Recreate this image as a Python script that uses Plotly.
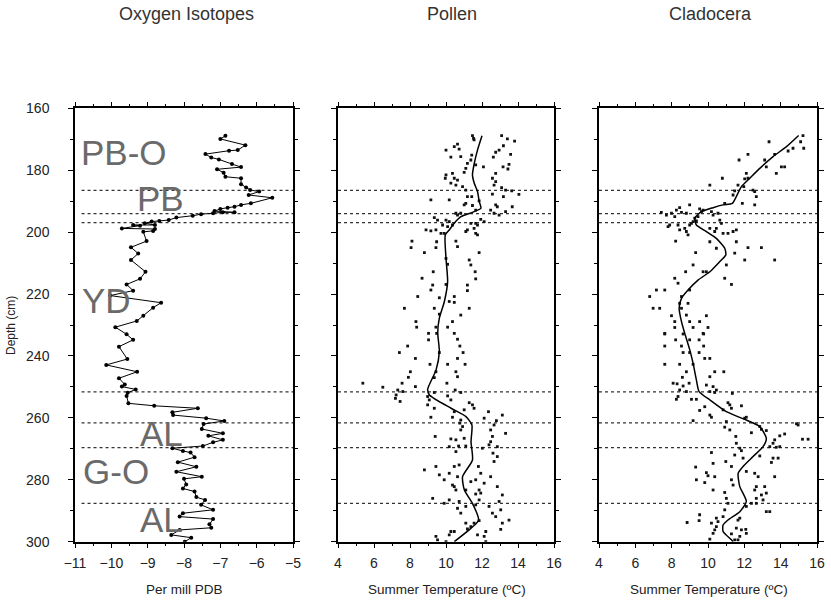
import plotly.graph_objects as go

# ---------------- data ----------------
panel_titles = ["Oxygen Isotopes", "Pollen", "Cladocera"]
x_titles = ["Per mill PDB", "Summer Temperature (ºC)", "Summer Temperature (ºC)"]
y_title = "Depth (cm)"

boundary_depths = [186.5, 194.0, 196.9, 251.6, 261.6, 269.6, 287.6]

zone_labels = ["PB-O", "PB", "YD", "AL", "G-O", "AL"]
zone_label_x = [-10.9, -9.34, -10.87, -9.27, -10.84, -9.27]
zone_label_depth = [174.4, 189.1, 222.2, 265.1, 277.4, 292.8]

ox_depth = [168.9, 169.9, 171.9, 173.5, 173.7, 174.8, 175.9, 176.5, 178.0, 179.0,
            179.7, 180.8, 182.1, 182.6, 184.5, 185.6, 186.4, 186.9, 188.0, 188.9,
            190.7, 191.2, 191.8, 192.1, 192.5, 193.2, 193.6, 193.6, 193.9, 194.2,
            194.7, 195.3, 196.1, 196.4, 196.6, 197.1, 197.7, 197.7, 197.9, 198.8,
            199.0, 199.6, 199.9, 202.9, 204.9, 206.9, 209.0, 212.8, 215.1, 216.9,
            218.9, 220.5, 222.8, 224.4, 227.0, 228.7, 230.7, 233.0, 234.8, 237.0,
            241.0, 242.9, 245.1, 247.2, 249.2, 249.9, 250.8, 251.9, 252.9, 255.3,
            256.1, 256.9, 258.2, 259.1, 260.1, 261.0, 262.0, 263.6, 265.0, 265.8,
            267.1, 267.9, 269.1, 269.8, 270.7, 271.2, 272.7, 274.3, 275.8, 277.4,
            279.0, 279.7, 281.5, 282.8, 283.8, 285.6, 286.5, 288.1, 289.7, 290.8,
            291.9, 292.7, 294.4, 295.5, 296.2, 297.8, 298.7, 300.0]
ox_value = [-6.86, -7.0, -6.31, -6.52, -6.76, -7.41, -7.25, -7.04, -6.68, -6.43,
            -7.09, -6.91, -6.86, -6.43, -6.43, -6.29, -6.18, -5.93, -6.22, -5.57,
            -6.16, -6.43, -6.61, -6.80, -7.0, -7.16, -6.61, -6.93, -7.2, -7.53,
            -7.76, -8.21, -8.42, -8.68, -8.89, -9.08, -8.80, -9.40, -9.21, -9.71,
            -8.80, -8.85, -9.12, -9.03, -9.46, -9.26, -9.46, -9.06, -9.21, -9.58,
            -9.40, -10.03, -8.63, -8.85, -9.12, -9.30, -9.89, -9.58, -9.40, -9.79,
            -9.56, -10.14, -9.29, -9.79, -9.63, -9.71, -9.33, -9.55, -9.58, -9.53,
            -8.82, -7.62, -8.32, -8.30, -7.39, -6.89, -7.46, -7.51, -6.93, -7.33,
            -6.93, -7.20, -7.48, -8.32, -8.03, -7.82, -7.71, -8.17, -7.66, -8.21,
            -7.51, -8.0, -7.94, -8.03, -7.71, -7.66, -7.42, -7.53, -7.20, -8.03,
            -8.12, -7.20, -7.30, -7.25, -8.12, -8.35, -7.80, -7.98]

# (temperature, depth)
pollen_samples = [
    (11.47, 168.8), (11.53, 169.7), (11.56, 170.2), (13.09, 168.8), (13.41, 169.9), (13.81, 170.6),
    (10.64, 171.6), (10.46, 172.4), (10.73, 173.2), (10.0, 173.5), (10.27, 175.8), (10.82, 175.6),
    (13.19, 172.1), (12.95, 173.5), (12.76, 174.2), (12.63, 175.8), (13.59, 174.9), (11.43, 175.1),
    (11.38, 176.7), (11.19, 177.8), (12.08, 178.9), (11.65, 178.3), (13.17, 178.9), (13.50, 178.1),
    (13.44, 179.6), (11.10, 179.4), (11.01, 180.7), (12.76, 181.0), (10.36, 181.0), (10.0, 181.5),
    (9.96, 182.6), (10.46, 182.6), (10.64, 183.2), (10.27, 184.2), (10.55, 184.8), (12.58, 182.6),
    (12.76, 183.7), (12.67, 184.8), (10.92, 185.3), (11.10, 186.4), (13.09, 185.6), (13.31, 186.4),
    (13.65, 186.7), (14.05, 187.8), (12.58, 187.7), (13.19, 188.5), (11.19, 188.5), (11.43, 188.5),
    (9.16, 189.6), (10.18, 189.6), (11.84, 189.9), (11.10, 190.7), (11.01, 191.2), (11.47, 191.4),
    (11.65, 192.9), (12.76, 191.2), (12.85, 191.8), (13.68, 191.8), (13.31, 193.4), (12.48, 192.9),
    (12.67, 193.9), (12.95, 194.5), (10.55, 193.9), (10.64, 194.5), (10.82, 193.9), (9.35, 195.3),
    (9.53, 196.1), (10.0, 196.1), (10.18, 196.6), (9.81, 197.7), (10.09, 198.2), (10.36, 197.7),
    (11.38, 197.2), (11.65, 197.2), (11.93, 195.9), (12.12, 196.6), (11.75, 197.7), (11.56, 198.8),
    (8.89, 199.3), (9.16, 199.6), (9.44, 199.3), (9.72, 200.4), (9.90, 200.4), (11.10, 199.8),
    (11.19, 199.3), (11.65, 200.4), (11.75, 200.9), (8.11, 202.9), (8.06, 205.0), (9.48, 203.1),
    (9.44, 205.0), (10.55, 202.9), (10.64, 204.7), (8.80, 206.6), (11.84, 206.6), (10.0, 208.5),
    (10.09, 210.4), (11.29, 209.0), (11.38, 210.6), (9.29, 212.8), (11.62, 212.8), (8.67, 214.9),
    (11.65, 215.1), (9.16, 218.7), (9.26, 217.1), (10.0, 216.9), (11.19, 217.1), (11.19, 218.9),
    (8.43, 220.8), (9.63, 221.2), (10.46, 220.8), (10.18, 222.4), (10.46, 222.7), (7.69, 224.6),
    (9.35, 224.6), (11.29, 224.6), (10.82, 226.8), (9.63, 226.5), (8.33, 228.9), (8.37, 230.7),
    (9.44, 230.7), (10.09, 230.7), (10.36, 228.9),
    (9.03, 232.7), (9.48, 232.7), (10.46, 232.7), (9.03, 234.8), (10.64, 234.6), (10.77, 236.8),
    (7.87, 236.8), (7.41, 238.9), (9.63, 238.9), (10.95, 238.9), (8.30, 240.8), (10.64, 240.8),
    (9.11, 242.7), (10.09, 242.7), (11.06, 242.7), (9.44, 245.1), (8.02, 245.1), (10.55, 245.1),
    (7.91, 246.9), (9.35, 247.0), (10.64, 246.7), (5.38, 248.8), (7.56, 248.8), (10.05, 248.8),
    (6.49, 250.1), (8.30, 249.9), (7.32, 251.0), (7.60, 251.5), (10.51, 251.0), (10.82, 251.8),
    (9.35, 251.8), (7.23, 252.6), (7.19, 253.7), (7.45, 254.7), (8.98, 253.1), (9.07, 254.2),
    (10.09, 252.9), (10.27, 254.2), (8.98, 255.8), (9.35, 256.9), (11.29, 255.1), (11.47, 255.8),
    (11.56, 256.9), (11.01, 257.4), (10.46, 258.0), (12.36, 258.0), (9.16, 259.8), (10.36, 259.8),
    (10.82, 260.7), (12.12, 260.1), (13.13, 259.1), (12.80, 260.9), (12.67, 262.3), (10.77, 261.7),
    (10.82, 263.9), (10.92, 262.8), (12.48, 263.9), (13.31, 265.0), (9.40, 266.0), (12.58, 266.0),
    (10.27, 266.8), (10.55, 267.1), (11.01, 266.6), (10.18, 269.3), (10.70, 269.1), (11.10, 269.1),
    (12.02, 269.8), (12.85, 269.3), (10.55, 270.9), (12.48, 267.7), (12.39, 268.7), (12.61, 271.4),
    (12.85, 272.5), (12.67, 274.1), (8.80, 276.8), (9.44, 275.7), (9.63, 278.4), (9.90, 280.0),
    (10.18, 277.9), (10.46, 275.7), (10.73, 275.2), (10.64, 279.0), (11.80, 275.7), (11.93, 277.9),
    (11.65, 280.0), (12.48, 279.0), (10.36, 281.7), (10.46, 282.2), (11.38, 280.6), (12.12, 281.1),
    (10.55, 283.3), (12.85, 282.2), (11.84, 283.3), (11.93, 284.3), (11.10, 283.3), (11.65, 284.6),
    (13.13, 284.9), (9.26, 286.0), (10.18, 286.5), (9.90, 287.6), (10.73, 287.0), (10.64, 289.2),
    (11.10, 288.6), (10.82, 290.8), (11.65, 288.1), (11.84, 286.5), (12.95, 287.0), (12.39, 288.6),
    (12.58, 290.8), (12.76, 291.9), (13.04, 289.7), (13.50, 293.0), (13.13, 294.0), (13.04, 296.0),
    (11.10, 294.0), (11.56, 294.0), (11.38, 295.1), (11.19, 295.9), (11.84, 293.2), (10.27, 296.7),
    (10.46, 296.7), (10.18, 297.8), (9.44, 298.3), (9.53, 299.4), (10.0, 300.0), (11.75, 297.8),
    (12.21, 296.7), (12.12, 298.3), (12.21, 300.0)]

pollen_smooth = [
    (12.0, 168.9), (11.75, 173.5), (11.57, 177.8), (11.47, 181.5), (11.57, 184.2), (11.75, 186.9),
    (11.85, 190.2), (11.94, 192.3), (11.47, 193.6), (10.83, 195.0), (10.46, 197.1), (10.18, 199.3),
    (9.96, 200.9), (10.0, 208.4), (10.09, 216.0), (9.91, 222.4), (9.63, 227.8), (9.54, 232.5),
    (9.63, 238.6), (9.45, 244.5), (8.98, 250.8), (9.08, 252.6), (10.28, 256.9), (11.11, 259.6),
    (11.44, 262.3), (11.39, 267.7), (11.47, 273.6), (10.92, 279.0), (11.02, 283.3), (11.47, 287.6),
    (11.81, 293.0), (11.38, 295.7), (10.46, 300.0)]

clado_samples = [
    (15.23, 168.8), (15.10, 170.8), (15.27, 172.9), (13.36, 170.8), (14.68, 172.9), (14.41, 173.8),
    (12.20, 174.9), (11.71, 176.7), (13.12, 176.7), (13.67, 174.9), (13.21, 178.9), (14.04, 178.9),
    (14.22, 178.9), (13.76, 181.0), (12.11, 181.0), (10.79, 182.6), (12.02, 182.8), (12.20, 182.6),
    (10.10, 184.8), (11.65, 184.8), (11.97, 185.3), (12.48, 186.4), (11.47, 186.7), (11.38, 188.0),
    (12.66, 188.5), (12.57, 186.9), (11.89, 190.7), (12.57, 191.2), (10.92, 190.7), (8.99, 191.2),
    (8.44, 192.1), (8.26, 192.9), (8.54, 193.6), (7.43, 193.6), (7.99, 193.9), (7.71, 194.5),
    (8.17, 195.0), (8.81, 193.9), (9.54, 192.5), (9.64, 193.4), (9.45, 195.0), (9.27, 195.5),
    (9.18, 196.6), (9.09, 197.2), (9.36, 196.4), (8.99, 197.7), (9.73, 192.9), (10.19, 193.4),
    (10.28, 194.5), (10.55, 193.9), (10.65, 196.1), (10.74, 197.2), (10.46, 198.8), (7.89, 197.7),
    (7.80, 198.2), (8.35, 197.7), (8.44, 199.3), (8.72, 198.8), (8.81, 199.8), (8.90, 200.9),
    (10.10, 198.8), (10.37, 199.8), (10.83, 200.4), (11.10, 200.4), (11.38, 199.8), (11.56, 199.3),
    (8.22, 202.9), (10.10, 203.1), (11.56, 203.1), (9.32, 206.6), (10.46, 205.2), (11.47, 206.8),
    (12.20, 205.0), (12.94, 205.0), (12.02, 209.0), (13.67, 209.0), (9.18, 210.6), (11.01, 210.6),
    (8.77, 212.8), (9.73, 212.8), (9.91, 212.8), (8.17, 214.9), (10.92, 214.9), (8.35, 216.5),
    (11.29, 216.9), (8.99, 218.7), (7.16, 218.7), (7.62, 218.7), (6.79, 220.8), (8.54, 220.8),
    (8.44, 223.0), (8.90, 223.0), (6.98, 224.6), (7.34, 224.6), (8.54, 224.6), (7.99, 227.0),
    (8.81, 226.8), (9.91, 227.0), (8.17, 228.9), (8.99, 228.9), (9.54, 228.9), (7.62, 232.7),
    (8.17, 230.8), (9.18, 230.8), (10.00, 230.8), (9.73, 232.7),
    (7.62, 232.9), (8.63, 232.9), (9.76, 232.9), (8.22, 234.8), (8.99, 234.8), (9.51, 234.8),
    (7.62, 236.8), (8.54, 236.8), (9.76, 236.8), (8.63, 238.9), (8.99, 238.9), (9.51, 238.9),
    (9.82, 240.8), (10.10, 240.8), (8.44, 242.7), (9.18, 242.7), (7.62, 242.7), (8.81, 245.1),
    (10.37, 245.1), (10.87, 245.1), (8.59, 246.9), (10.10, 246.7), (8.96, 248.8), (8.08, 248.8),
    (8.30, 249.0), (8.63, 249.7), (8.44, 251.0), (8.81, 251.5), (8.35, 253.1), (8.26, 254.0),
    (9.09, 254.0), (9.36, 254.0), (9.91, 249.4), (10.28, 249.9), (10.46, 251.0), (10.10, 251.5),
    (10.37, 251.8), (11.34, 252.1), (11.10, 255.1), (11.20, 255.8), (11.29, 256.9), (11.84, 256.1),
    (10.83, 257.4), (9.54, 257.6), (9.82, 256.4), (10.10, 259.1), (10.19, 259.8), (9.18, 260.9),
    (11.01, 261.2), (12.02, 260.1), (12.11, 259.8), (10.92, 263.0), (11.20, 263.9), (12.39, 264.8),
    (12.94, 263.7), (13.21, 264.1), (12.85, 262.8), (14.87, 261.9), (14.96, 262.3), (11.53, 266.0),
    (11.56, 268.2), (13.67, 267.1), (13.58, 268.2), (13.95, 265.8), (14.22, 265.2), (15.20, 266.9),
    (15.51, 266.9), (13.95, 269.3), (13.40, 269.3), (13.76, 269.5), (11.75, 269.8), (11.84, 270.6),
    (10.19, 271.2), (11.47, 272.0), (11.93, 273.0), (12.85, 272.3), (13.58, 273.0), (13.86, 273.0),
    (13.49, 274.4), (10.98, 274.1), (10.28, 274.7), (9.32, 275.9), (9.91, 277.7), (10.00, 278.7),
    (9.36, 280.0), (10.37, 279.0), (11.29, 275.7), (12.11, 277.3), (12.57, 277.9), (12.76, 279.0),
    (11.29, 280.0), (11.38, 281.7), (9.82, 280.9), (10.28, 283.3), (12.66, 282.2), (13.12, 282.2),
    (12.57, 283.3), (12.94, 284.9), (12.66, 286.0), (13.21, 284.3), (13.67, 279.0), (10.92, 284.1),
    (11.01, 286.0), (11.10, 287.6), (10.92, 289.7), (12.11, 288.6), (12.39, 287.6), (12.66, 287.6),
    (13.03, 286.5), (13.21, 290.3), (13.40, 290.3), (10.83, 291.9), (11.75, 292.4), (11.65, 293.0),
    (9.54, 291.3), (9.51, 293.2), (8.85, 293.8), (10.19, 294.0), (10.46, 292.4), (10.55, 293.5),
    (10.46, 295.1), (10.37, 296.2), (10.28, 297.3), (10.10, 299.2), (11.56, 295.6), (11.84, 296.2),
    (12.08, 296.0), (12.11, 297.3), (11.75, 298.3), (11.65, 299.4), (11.47, 299.4), (11.29, 297.5)]

clado_smooth = [
    (14.99, 168.8), (14.32, 172.4), (13.58, 175.6), (12.85, 179.4), (12.30, 182.6), (11.84, 185.3),
    (11.56, 188.5), (11.34, 190.7), (10.83, 191.2), (10.28, 192.1), (9.64, 193.4), (9.27, 195.5),
    (9.36, 197.7), (9.91, 199.8), (10.46, 202.0), (10.92, 205.2), (10.98, 207.4), (10.65, 209.5),
    (10.10, 212.8), (9.45, 215.5), (8.90, 218.7), (8.54, 221.4), (8.41, 224.6), (8.54, 228.9),
    (8.72, 232.7), (9.0, 238.1), (9.18, 242.4), (9.36, 247.7), (9.51, 251.5), (10.1, 254.2),
    (11.01, 258.0), (12.11, 260.7), (12.85, 262.8), (13.21, 266.6), (13.03, 269.3), (12.48, 272.5),
    (11.93, 275.7), (11.66, 277.9), (11.75, 282.2), (12.11, 287.0), (11.75, 290.3), (11.1, 293.0),
    (10.83, 294.6), (10.83, 296.7), (11.29, 299.4), (11.38, 300.0)]

# ---------------- figure ----------------
W, H = 831, 601
FONT = "Liberation Sans, Arial, sans-serif"

def px_x(p):
    return p / W

def px_y(p):
    return 1 - p / H

panel_px = [(75, 293), (338, 554), (599, 817)]
top_px, bot_px = 108.3, 541.7

fig = go.Figure()

# oxygen
fig.add_trace(go.Scatter(x=ox_value, y=ox_depth, mode="lines+markers",
                         line=dict(color="black", width=1),
                         marker=dict(color="black", size=4),
                         xaxis="x", yaxis="y", hoverinfo="skip"))

for i, (samples, smooth) in enumerate([(pollen_samples, pollen_smooth),
                                       (clado_samples, clado_smooth)], start=2):
    fig.add_trace(go.Scatter(x=[s[0] for s in samples], y=[s[1] for s in samples],
                             mode="markers",
                             marker=dict(color="#111", size=2.8, symbol="square"),
                             xaxis=f"x{i}", yaxis=f"y{i}", hoverinfo="skip"))
    fig.add_trace(go.Scatter(x=[s[0] for s in smooth], y=[s[1] for s in smooth],
                             mode="lines",
                             line=dict(color="black", width=1.5, shape="spline", smoothing=0.6),
                             xaxis=f"x{i}", yaxis=f"y{i}", hoverinfo="skip"))

axis_common = dict(showline=True, linecolor="black", linewidth=1.5, mirror="ticks",
                   ticks="outside", ticklen=5, tickwidth=1.2, tickcolor="black",
                   showgrid=False, zeroline=False, automargin=False,
                   tickfont=dict(family=FONT, size=14, color="#222"))

layout = dict(width=W, height=H, margin=dict(l=0, r=0, t=0, b=0, pad=0, autoexpand=False),
              template="none", autosize=False,
              paper_bgcolor="white", plot_bgcolor="white", showlegend=False)

x_ranges = [[-11, -5], [4, 16], [4, 16]]
x_dticks = [1, 2, 2]
x_minor = [0.5, 1, 1]

for i in range(3):
    sfx = "" if i == 0 else str(i + 1)
    x0, x1 = panel_px[i]
    layout["xaxis" + sfx] = dict(axis_common, domain=[px_x(x0), px_x(x1)],
                                 range=x_ranges[i], dtick=x_dticks[i], tick0=0,
                                 anchor="y" + sfx, ticklabelstandoff=3,
                                 minor=dict(dtick=x_minor[i], ticks="outside", ticklen=3,
                                            tickcolor="black", tickwidth=1))
    layout["yaxis" + sfx] = dict(axis_common, domain=[px_y(bot_px), px_y(top_px)],
                                 range=[300, 160], dtick=20, tick0=0,
                                 anchor="x" + sfx, showticklabels=(i == 0),
                                 ticklabelstandoff=16,
                                 minor=dict(dtick=10, ticks="outside", ticklen=3,
                                            tickcolor="black", tickwidth=1))

shapes = []
for i in range(3):
    sfx = "" if i == 0 else str(i + 1)
    for d in boundary_depths:
        shapes.append(dict(type="line", xref=f"x{sfx} domain", yref=f"y{sfx}",
                           x0=0.03 if i == 0 else 0.0, x1=1.0, y0=d, y1=d,
                           line=dict(color="#333", width=1.2, dash="dot"), layer="below"))
layout["shapes"] = shapes

ann = []
title_centers = [186, 452, 710]
xt_centers = [184.5, 447, 709]
for i in range(3):
    ann.append(dict(text=panel_titles[i], x=px_x(title_centers[i]), y=px_y(14),
                    xref="paper", yref="paper", showarrow=False,
                    xanchor="center", yanchor="middle",
                    font=dict(family=FONT, size=18, color="#333")))
    ann.append(dict(text=x_titles[i], x=px_x(xt_centers[i]), y=px_y(589),
                    xref="paper", yref="paper", showarrow=False,
                    xanchor="center", yanchor="middle",
                    font=dict(family=FONT, size=13.5, color="#222")))
ann.append(dict(text=y_title, x=px_x(11), y=px_y(326), xref="paper", yref="paper",
                showarrow=False, textangle=-90, xanchor="center", yanchor="middle",
                font=dict(family=FONT, size=12, color="#222")))
for lab, lx, ld in zip(zone_labels, zone_label_x, zone_label_depth):
    ann.append(dict(text=lab, x=lx, y=ld, xref="x", yref="y", showarrow=False,
                    xanchor="left", yanchor="middle",
                    font=dict(family=FONT, size=35, color="#6a6a6a")))
layout["annotations"] = ann

fig.update_layout(**layout)
fig.write_html("out.html")
